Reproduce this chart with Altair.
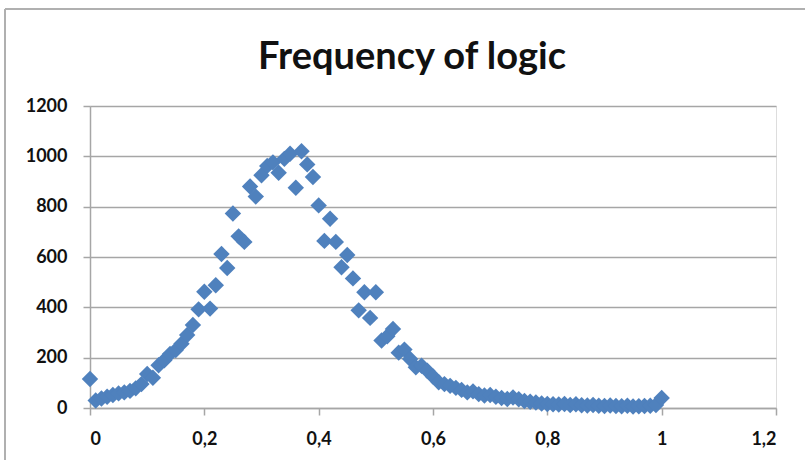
import altair as alt
import pandas as pd

# Share of "logic" (0..1, step 0.01) and how often each value occurs
share = [round(i * 0.01, 2) for i in range(101)]
frequency = [
    115, 30, 38, 45, 52, 58, 62, 68, 78, 95,
    135, 120, 170, 190, 215, 230, 255, 290, 330, 392,
    462, 395, 488, 612, 556, 773, 682, 660, 880, 840,
    925, 962, 976, 935, 990, 1010, 875, 1020, 968, 918,
    805, 664, 752, 660, 559, 608, 515, 388, 460, 358,
    460, 268, 285, 314, 220, 232, 195, 162, 168, 148,
    125, 102, 95, 88, 80, 72, 62, 66, 55, 50,
    52, 45, 40, 36, 42, 35, 28, 25, 22, 18,
    16, 15, 14, 16, 12, 15, 11, 10, 12, 9,
    8, 10, 8, 7, 9, 6, 7, 8, 9, 12,
    40,
]

x_ticks = [0, 0.2, 0.4, 0.6, 0.8, 1.0, 1.2]
y_ticks = [0, 200, 400, 600, 800, 1000, 1200]
title_text = "Frequency of logic"

df = pd.DataFrame({"share": share, "frequency": frequency})

GRID = "#a6a6a6"
FONT = "Lato"

points = alt.Chart(df).mark_point(
    shape="diamond", filled=True, size=270, color="#4f81bd", opacity=1
).encode(
    x=alt.X(
        "share:Q",
        scale=alt.Scale(domain=[0, 1.2], nice=False, zero=False),
        axis=alt.Axis(
            values=x_ticks,
            labelExpr="replace(format(datum.value, '~g'), '.', ',')",
            title=None,
            grid=False,
            domainColor=GRID,
            domainWidth=1.5,
            tickColor=GRID,
            tickWidth=1.5,
            tickSize=7,
            labelPadding=15,
            labelFont=FONT,
            labelFontSize=18,
            labelFontWeight="bold",
            labelColor="#111111",
        ),
    ),
    y=alt.Y(
        "frequency:Q",
        scale=alt.Scale(domain=[0, 1200], nice=False),
        axis=alt.Axis(
            values=y_ticks,
            format="d",
            title=None,
            grid=True,
            gridColor=GRID,
            gridWidth=1.5,
            domainColor=GRID,
            domainWidth=1.5,
            tickColor=GRID,
            tickWidth=1.5,
            tickSize=7,
            labelPadding=16,
            labelFont=FONT,
            labelFontSize=18,
            labelFontWeight="bold",
            labelColor="#111111",
        ),
    ),
)

base = alt.Chart(pd.DataFrame({"label": [title_text]}))

# Outer chart-area frame (left and top edges)
frame_left = base.mark_rule(color="#b0b0b0", strokeWidth=2).encode(
    x=alt.value(-85), y=alt.value(-97), y2=alt.value(400)
)
frame_top = base.mark_rule(color="#b0b0b0", strokeWidth=2).encode(
    x=alt.value(-85), x2=alt.value(800), y=alt.value(-97)
)

# Chart title, centred on the whole chart area
title = base.mark_text(
    font=FONT, fontSize=38, fontWeight="bold", color="#111111",
    align="center", baseline="alphabetic",
).encode(text="label:N", x=alt.value(322), y=alt.value(-37))

chart = alt.layer(frame_left, frame_top, title, points).properties(
    width=686,
    height=302,
    autosize=alt.AutoSizeParams(type="none"),
    padding={"left": 90, "top": 106, "right": 29, "bottom": 52},
).configure_view(stroke=None).configure(background="white")

chart.save("out.html", embed_options={"renderer": "svg", "actions": False})
